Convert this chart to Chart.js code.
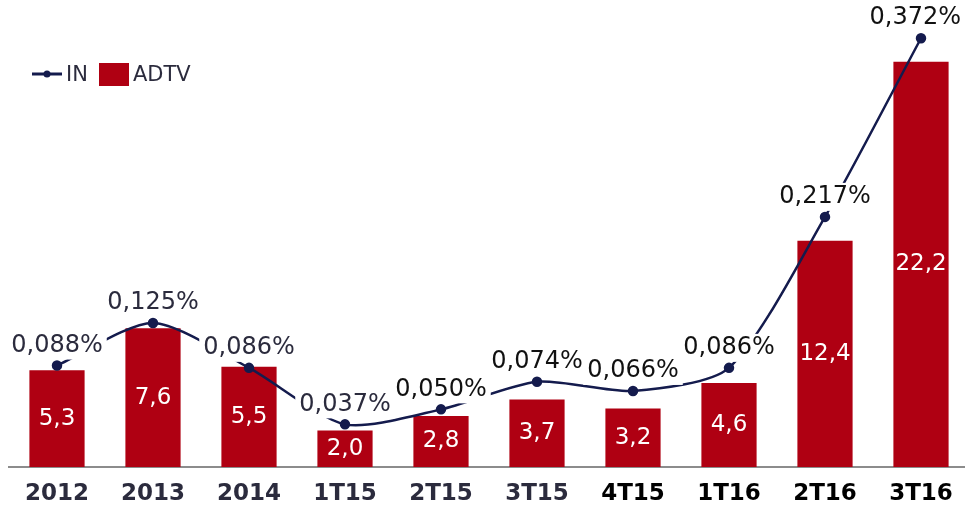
<!DOCTYPE html>
<html>
<head>
<meta charset="utf-8">
<script src="https://cdn.jsdelivr.net/npm/chart.js@4/dist/chart.umd.min.js"></script>
<style>
    body { margin: 0; background: #fff; overflow: hidden; }
    #clip { width: 965px; height: 510px; overflow: hidden; }
    #myChart { display: block; }
</style>
</head>
<body>
<div id="clip"><canvas id="myChart" width="969" height="510"></canvas></div>
<script>
// --- dados
var categorias = ['2012', '2013', '2014', '1T15', '2T15', '3T15', '4T15', '1T16', '2T16', '3T16'];
var adtv = [5.3, 7.6, 5.5, 2.0, 2.8, 3.7, 3.2, 4.6, 12.4, 22.2];
var indiceIN = [0.088, 0.125, 0.086, 0.037, 0.050, 0.074, 0.066, 0.086, 0.217, 0.372];
var coresRotulos = ['#2b2b3d', '#2b2b3d', '#2b2b3d', '#2b2b3d', '#2b2b3d', '#2b2b3d', '#000', '#000', '#000', '#000'];

var corBarra = '#af0012';
var corLinha = '#141b4d';
var fonte = 'DejaVu Sans';
var larguraVisivel = 965;

function virgula(v, casas) {
    return v.toFixed(casas).replace('.', ',');
}

// rotulos e legenda desenhados a mao
var rotulosPlugin = {
    id: 'rotulos',
    afterDatasetsDraw: function (chart) {
        var ctx = chart.ctx;
        ctx.save();
        ctx.textAlign = 'center';
        ctx.textBaseline = 'middle';

        // barras
        var metaBar = chart.getDatasetMeta(1);
        ctx.font = '23px "' + fonte + '"';
        ctx.fillStyle = '#fff';
        metaBar.data.forEach(function (el, i) {
            ctx.fillText(virgula(adtv[i], 1), el.x, (el.y + el.base) / 2);
        });

        // linha
        var metaLine = chart.getDatasetMeta(0);
        ctx.font = '24px "' + fonte + '"';
        metaLine.data.forEach(function (el, i) {
            var txt = virgula(indiceIN[i], 3) + '%';
            var w = ctx.measureText(txt).width;
            var x = Math.min(el.x, larguraVisivel - w / 2 - 4);
            var y = el.y - 20;
            ctx.fillStyle = '#fff';
            ctx.fillRect(x - w / 2 - 4, y - 14, w + 8, 28);
            ctx.fillStyle = i < 4 ? '#2b2b3d' : '#111';
            ctx.fillText(txt, x, y);
        });

        // legenda
        ctx.strokeStyle = corLinha;
        ctx.lineWidth = 3;
        ctx.beginPath();
        ctx.moveTo(32, 74);
        ctx.lineTo(62, 74);
        ctx.stroke();
        ctx.fillStyle = corLinha;
        ctx.beginPath();
        ctx.arc(47, 74, 3.5, 0, Math.PI * 2);
        ctx.fill();
        ctx.font = '21px "' + fonte + '"';
        ctx.textAlign = 'left';
        ctx.fillStyle = '#2b2b3d';
        ctx.fillText('IN', 66, 76);
        ctx.fillStyle = corBarra;
        ctx.fillRect(99, 63, 30, 23);
        ctx.fillStyle = '#2b2b3d';
        ctx.fillText('ADTV', 133, 76);
        ctx.restore();
    }
};

var ctx = document.getElementById('myChart');
new Chart(ctx, {
    data: {
        labels: categorias,
        datasets: [
            {
                type: 'line',
                label: 'IN',
                data: indiceIN,
                yAxisID: 'y1',
                order: 0,
                borderColor: corLinha,
                backgroundColor: corLinha,
                borderWidth: 2.5,
                pointRadius: 4,
                pointHoverRadius: 4,
                tension: 0.25
            },
            {
                type: 'bar',
                label: 'ADTV',
                data: adtv,
                yAxisID: 'y',
                order: 1,
                backgroundColor: corBarra,
                barPercentage: 0.575,
                categoryPercentage: 1
            }
        ]
    },
    options: {
        responsive: false,
        animation: false,
        layout: { autoPadding: false, padding: { left: 9, right: 0, top: 29, bottom: 0 } },
        plugins: {
            legend: { display: false },
            tooltip: { enabled: false }
        },
        scales: {
            x: {
                grid: { display: false, drawTicks: false },
                border: { display: true, color: '#8c8c8c', width: 2 },
                ticks: {
                    padding: 13,
                    color: coresRotulos,
                    font: { family: fonte, size: 23, weight: 'bold' }
                },
                afterFit: function (scale) {
                    scale.height = 43;
                    scale.paddingLeft = 0;
                    scale.paddingRight = 0;
                }
            },
            y: { display: false, min: 0, max: 24 },
            y1: { display: false, min: 0, max: 0.38 }
        }
    },
    plugins: [rotulosPlugin]
});
</script>
</body>
</html>
